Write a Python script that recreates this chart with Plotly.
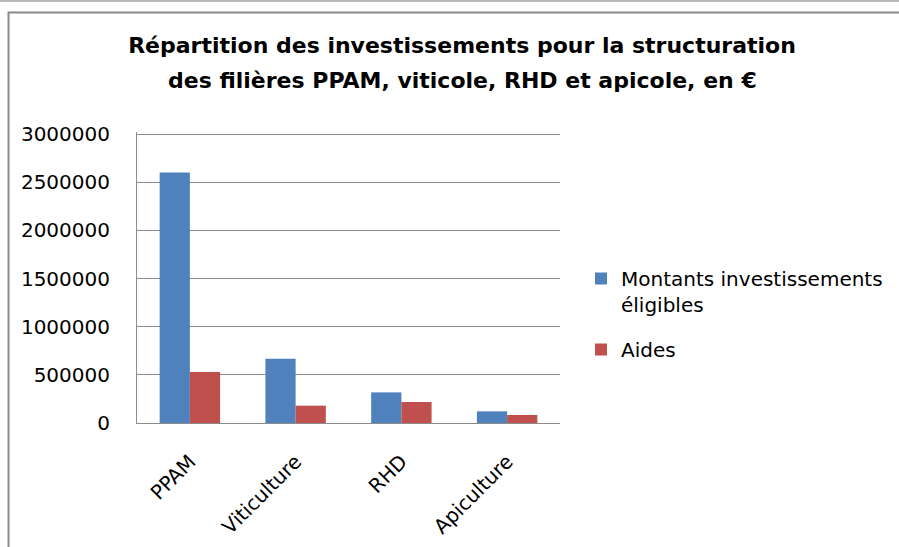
import plotly.graph_objects as go

# ================= data =================
categories = ["PPAM", "Viticulture", "RHD", "Apiculture"]
montants = [2600000, 667000, 318000, 121000]
aides = [530000, 180000, 218000, 83000]

series_names = ["Montants investissements<br>éligibles", "Aides"]
y_ticks = [0, 500000, 1000000, 1500000, 2000000, 2500000, 3000000]

title_l1 = "Répartition des investissements pour la structuration"
title_l2 = "des filières PPAM, viticole, RHD et apicole, en €"

# ================= style =================
W, H = 899, 547
M = dict(l=137, r=339, t=132, b=124)
BLUE = "#4F81BD"
RED = "#C0504D"
GRID = "#8c8c8c"
FONT = "DejaVu Sans"


def px_x(px):
    # pixel -> paper x
    return (px - M["l"]) / (W - M["l"] - M["r"])


def px_y(px):
    # pixel -> paper y
    return (H - M["b"] - px) / (H - M["t"] - M["b"])


fig = go.Figure()
fig.add_trace(go.Bar(x=categories, y=montants, name=series_names[0],
                     marker=dict(color=BLUE, line=dict(width=0)), legendgroup="a"))
fig.add_trace(go.Bar(x=categories, y=aides, name=series_names[1],
                     marker=dict(color=RED, line=dict(width=0)), legendgroup="b"))

fig.update_layout(
    width=W, height=H,
    margin=dict(M, autoexpand=False),
    paper_bgcolor="white", plot_bgcolor="white",
    barmode="group", bargap=0.4286, bargroupgap=0,
    font=dict(family=FONT, size=20, color="black"),
    title=dict(
        text="<b>" + title_l1 + "</b>",
        font=dict(family=FONT, size=22, color="black"),
        x=462 / W, xanchor="center", xref="container",
        y=1 - 45 / H, yanchor="middle", yref="container",
    ),
    annotations=[
        dict(text="<b>" + title_l2 + "</b>", xref="paper", yref="paper",
             x=px_x(462), y=px_y(80), xanchor="center", yanchor="middle",
             showarrow=False, font=dict(family=FONT, size=22, color="black")),
    ],
    legend=dict(
        x=px_x(581), y=px_y(259), xanchor="left", yanchor="top",
        valign="top", traceorder="grouped", tracegroupgap=16,
        font=dict(family=FONT, size=20, color="black"),
        bgcolor="rgba(0,0,0,0)",
    ),
    shapes=[
        # outer chart frame
        dict(type="rect", xref="paper", yref="paper",
             x0=px_x(8.5), x1=px_x(905), y0=px_y(560), y1=px_y(12.5),
             line=dict(color="#8a8a8a", width=2), fillcolor="rgba(0,0,0,0)", layer="below"),
        dict(type="line", xref="paper", yref="paper",
             x0=px_x(0), x1=px_x(W), y0=px_y(1), y1=px_y(1),
             line=dict(color="#a0a0a0", width=1.5)),
    ],
)

fig.update_yaxes(
    # a little headroom: plotly drops gridlines within 1px of the axis ends
    range=[0, 3021000], tickvals=y_ticks, tickformat="d",
    showgrid=True, gridcolor=GRID, gridwidth=1,
    showline=True, linecolor=GRID, linewidth=1,
    zeroline=False, ticks="", automargin=False,
    ticklabelstandoff=22,
    tickfont=dict(family=FONT, size=20, color="black"),
)
fig.update_xaxes(
    tickangle=-45, showline=True, linecolor=GRID, linewidth=1,
    ticks="", showgrid=False, automargin=False,
    ticklabelstandoff=18,
    tickfont=dict(family=FONT, size=20, color="black"),
)

# drop the default 8px body margin so the chart sits at the window origin
fig.write_html("out.html", config={"displayModeBar": False},
               post_script="document.body.style.margin='0';")
